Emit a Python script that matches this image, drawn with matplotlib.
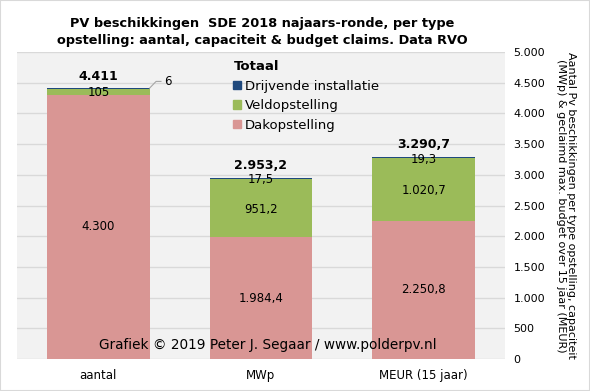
import numpy as np
import matplotlib
matplotlib.use("Agg")
import matplotlib.pyplot as plt
from matplotlib.patches import Patch, Rectangle

categories = ["aantal", "MWp", "MEUR (15 jaar)"]
dak = [4300, 1984.4, 2250.8]
veld = [105, 951.2, 1020.7]
drijvend = [6, 17.5, 19.3]
totaal = [4411, 2953.2, 3290.7]

dak_labels = ["4.300", "1.984,4", "2.250,8"]
veld_labels = ["105", "951,2", "1.020,7"]
drijvend_labels = ["6", "17,5", "19,3"]
totaal_labels = ["4.411", "2.953,2", "3.290,7"]

c_dak = "#d99694"
c_veld = "#9bbb59"
c_drijf = "#1f497d"

plt.rcParams["font.family"] = "DejaVu Sans"

fig = plt.figure(figsize=(5.9, 3.91), dpi=100)
ax = fig.add_axes([17 / 590, 32 / 391, 488 / 590, 307 / 391])
ax.set_facecolor("#f2f2f2")
fig.patches.append(Rectangle((0, 0), 1, 1, transform=fig.transFigure,
                             fill=False, edgecolor="#d9d9d9", lw=1.5))

x = np.arange(len(categories))
w = 0.63
dak = np.array(dak)
veld = np.array(veld)
drijvend = np.array(drijvend)

ax.bar(x, dak, w, color=c_dak, zorder=2)
ax.bar(x, veld, w, bottom=dak, color=c_veld, zorder=2)
ax.bar(x, drijvend, w, bottom=dak + veld, color=c_drijf, zorder=2)

ax.set_xlim(-0.5, 2.5)
ax.set_ylim(0, 5000)
ax.set_yticks(np.arange(0, 5001, 500))
ax.set_yticklabels([f"{v:,}".replace(",", ".") for v in range(0, 5001, 500)], fontsize=8)
ax.yaxis.tick_right()
ax.yaxis.set_label_position("right")
ax.set_xticks(x)
ax.set_xticklabels(categories, fontsize=8.5)
ax.tick_params(axis="y", length=0, pad=6)
ax.tick_params(axis="x", length=0, pad=7)
ax.grid(axis="y", color="#d9d9d9", lw=1, zorder=0)
for s in ax.spines.values():
    s.set_visible(False)
ax.set_ylabel("Aantal Pv beschikkingen per type opstelling, capaciteit\n"
              "(MWp) & geclaimd max. budget over 15 jaar (MEUR)",
              rotation=-90, fontsize=8, labelpad=22, linespacing=1.0)

# labels
for i in range(3):
    ax.text(x[i], dak[i] / 2, dak_labels[i], ha="center", va="center", fontsize=8.5, zorder=3)
    top = dak[i] + veld[i] + drijvend[i]
    ax.text(x[i], top + 195, totaal_labels[i], ha="center", va="center",
            fontsize=9, fontweight="bold", zorder=3)
ax.text(x[0], dak[0] + veld[0] / 2 - 20, veld_labels[0], ha="center", va="center", fontsize=8.5, zorder=3)
for i in (1, 2):
    ax.text(x[i], dak[i] + veld[i] / 2 - 20, veld_labels[i], ha="center", va="center", fontsize=8.5, zorder=3)
    ax.text(x[i], dak[i] + veld[i] + drijvend[i] - 35, drijvend_labels[i],
            ha="center", va="center", fontsize=8.5, zorder=3)
# leader line for smallest segment
y0 = totaal[0]
ax.plot([x[0] + w / 2, x[0] + w / 2 + 0.04, x[0] + w / 2 + 0.07],
        [y0, y0 + 110, y0 + 110], color="#a6a6a6", lw=0.8, zorder=3)
ax.text(x[0] + w / 2 + 0.09, y0 + 110, drijvend_labels[0], ha="left", va="center", fontsize=8.5)

handles = [Patch(color=c_drijf), Patch(color=c_veld), Patch(color=c_dak)]
leg = ax.legend(handles, ["Drijvende installatie", "Veldopstelling", "Dakopstelling"],
                title="Totaal", loc="upper left", bbox_to_anchor=(0.43, 0.995),
                frameon=False, fontsize=9.5, handlelength=0.6, handleheight=0.6,
                handletextpad=0.25, labelspacing=0.5, borderaxespad=0.1,
                alignment="left", title_fontproperties={"weight": "bold", "size": 9.5})

ax.text(0.514, 0.045, "Grafiek © 2019 Peter J. Segaar / www.polderpv.nl",
        transform=ax.transAxes, ha="center", va="center", fontsize=9.8, zorder=4)

fig.text(0.444, 0.919, "PV beschikkingen  SDE 2018 najaars-ronde, per type\n"
         "opstelling: aantal, capaciteit & budget claims. Data RVO",
         ha="center", va="center", fontsize=9.3, fontweight="bold", linespacing=1.4)

fig.savefig("out.png", dpi=100)
